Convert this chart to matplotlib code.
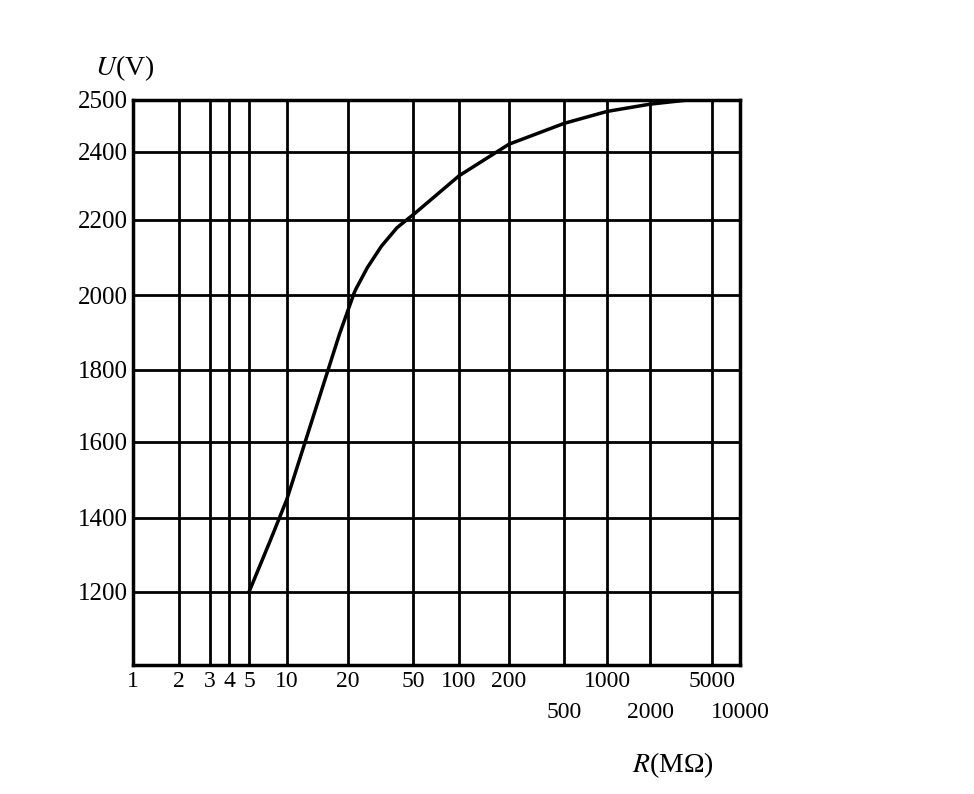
import numpy as np
import matplotlib.pyplot as plt
from matplotlib.transforms import blended_transform_factory

# grid values and where they sit on the (hand-drawn, non-uniform) paper
r_ticks = [1, 2, 3, 4, 5, 10, 20, 50, 100, 200, 500, 1000, 2000, 5000, 10000]
r_pos = [133, 179, 210, 229, 249, 287, 348, 413, 459, 509, 564, 607, 650, 712, 740]
r_low = [500, 2000, 10000]  # labels printed on the second row
u_ticks = [1000, 1200, 1400, 1600, 1800, 2000, 2200, 2400, 2500]
u_pos = [665, 592, 518, 442, 370, 295, 220, 152, 100]

# curve
r_data = [5, 7, 10, 14, 18, 22, 26, 32, 40, 50, 100, 200, 500, 1000, 2000, 3500, 10000]
u_data = [1200, 1320, 1450, 1700, 1890, 2010, 2070, 2130, 2180, 2215, 2330, 2415,
          2455, 2478, 2492, 2500, 2500]

lr = np.log10(r_ticks)
fx = lambda v: np.interp(np.log10(np.clip(v, 1e-9, None)), lr, r_pos)
fx_inv = lambda p: 10 ** np.interp(p, r_pos, lr)
uy = np.array(u_ticks, float)
up = -np.array(u_pos, float)
fy = lambda v: np.interp(v, uy, up)
fy_inv = lambda p: np.interp(p, up, uy)

plt.rcParams['font.family'] = ['Liberation Serif', 'DejaVu Serif']
plt.rcParams['mathtext.fontset'] = 'stix'
fig = plt.figure(figsize=(9.74, 7.94), dpi=100)
ax = fig.add_axes([133 / 974, 1 - 665 / 794, (740 - 133) / 974, (665 - 100) / 794])
ax.set_xscale('function', functions=(fx, fx_inv))
ax.set_yscale('function', functions=(fy, fy_inv))
ax.set_xlim(1, 10000)
ax.set_ylim(1000, 2500)

# dense curve through the read points (interpolated in plot space)
px = fx(np.array(r_data, float))
py = fy(np.array(u_data, float))
t = np.linspace(px[0], px[-1], 300)
yy = np.interp(t, px, py)
ax.plot(fx_inv(t), fy_inv(yy), color='black', lw=2.5)

ax.set_xticks(r_ticks)
ax.set_xticklabels(["" if r in r_low else str(r) for r in r_ticks], fontsize=17)
trans = blended_transform_factory(ax.transData, ax.transAxes)
for r in r_low:
    ax.text(r, -0.065, str(r), transform=trans, ha='center', va='top', fontsize=17)
ax.set_yticks(u_ticks[1:])
ax.set_yticklabels([str(u) for u in u_ticks[1:]], fontsize=18)
ax.minorticks_off()
ax.tick_params(length=0, pad=4)
ax.grid(True, color='black', lw=2)
for s in ax.spines.values():
    s.set_linewidth(2.5)

fig.text(95 / 974, 1 - 68 / 794, "$U$(V)", fontsize=20, va='center')
fig.text(632 / 974, 1 - 765 / 794, "$R$(M\u03a9)", fontsize=20, va='center')

fig.savefig("out.png", dpi=100)
